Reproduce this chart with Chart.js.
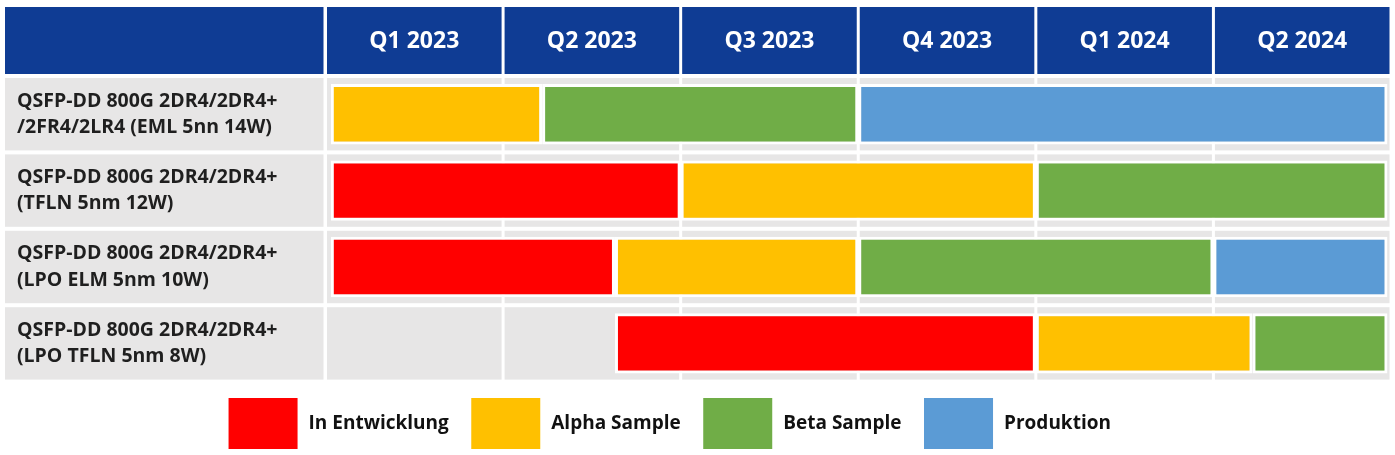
<!DOCTYPE html>
<html>
<head>
<meta charset="utf-8">
<script src="https://cdn.jsdelivr.net/npm/chart.js@4.4.0/dist/chart.umd.min.js"></script>
<style>
  html, body { margin: 0; padding: 0; background: #fff; }
  canvas { display: block; }
</style>
</head>
<body>
<canvas id="roadmap" width="1395" height="455"></canvas>
<script>
// quarters on the time axis (0 = start of Q1 2023, 1 unit = 1 quarter)
const quarters = ['Q1 2023', 'Q2 2023', 'Q3 2023', 'Q4 2023', 'Q1 2024', 'Q2 2024'];

const products = [
  ['QSFP-DD 800G 2DR4/2DR4+', '/2FR4/2LR4 (EML 5nn 14W)'],
  ['QSFP-DD 800G 2DR4/2DR4+', '(TFLN 5nm 12W)'],
  ['QSFP-DD 800G 2DR4/2DR4+', '(LPO ELM 5nm 10W)'],
  ['QSFP-DD 800G 2DR4/2DR4+', '(LPO TFLN 5nm 8W)']
];

// [start, end] in quarters, one entry per product
const entwicklung = [null, [0.03, 2.0], [0.03, 1.63], [1.63, 4.0]];
const alphaSample = [[0.03, 1.22], [2.0, 4.0], [1.63, 3.0], [4.0, 5.22]];
const betaSample = [[1.22, 3.0], [4.0, 5.98], [3.0, 5.0], [5.22, 5.98]];
const produktion = [[3.0, 5.98], null, [5.0, 5.98], null];

const headerBlue = '#0f3c94';
const cellGray = '#e7e6e6';
const fontFamily = '"Open Sans", "Noto Sans", sans-serif';

// ---- table backgrounds (header + grey cells) ----
const tableCells = {
  id: 'tableCells',
  afterLayout(chart) {
    // nudge the legend a bit up/left like in the slide
    chart.legend.top -= 6;
    chart.legend.right -= 70;
  },
  beforeDraw(chart) {
    const { ctx, chartArea, scales: { x, y } } = chart;
    const gap = 1.5;
    const headTop = 7, headBottom = chartArea.top - 2;
    const labelLeft = 5, labelRight = chartArea.left - 2;
    ctx.save();
    ctx.fillStyle = headerBlue;
    ctx.fillRect(labelLeft, headTop, labelRight - labelLeft, headBottom - headTop);
    for (let q = 0; q < quarters.length; q++) {
      const l = x.getPixelForValue(q) + gap, r = x.getPixelForValue(q + 1) - gap;
      ctx.fillRect(l, headTop, r - l, headBottom - headTop);
    }
    const half = (y.getPixelForValue(1) - y.getPixelForValue(0)) / 2;
    ctx.fillStyle = cellGray;
    products.forEach((p, i) => {
      const top = y.getPixelForValue(i) - half + 2;
      const h = 2 * half - 4;
      ctx.fillRect(labelLeft, top, labelRight - labelLeft, h);
      for (let q = 0; q < quarters.length; q++) {
        const l = x.getPixelForValue(q) + gap, r = x.getPixelForValue(q + 1) - gap;
        ctx.fillRect(l, top, r - l, h);
      }
    });
    ctx.restore();
  }
};

function makeSet(label, data, color) {
  return {
    label, data,
    backgroundColor: color,
    borderColor: '#ffffff',
    borderWidth: 3,
    borderSkipped: false,
    grouped: false,
    barPercentage: 0.79,
    categoryPercentage: 1
  };
}

new Chart(document.getElementById('roadmap'), {
  type: 'bar',
  data: {
    labels: products,
    datasets: [
      makeSet('In Entwicklung', entwicklung, '#ff0000'),
      makeSet('Alpha Sample', alphaSample, '#ffc000'),
      makeSet('Beta Sample', betaSample, '#70ad47'),
      makeSet('Produktion', produktion, '#5b9bd5')
    ]
  },
  options: {
    indexAxis: 'y',
    responsive: false,
    devicePixelRatio: 1,
    animation: false,
    layout: { padding: { left: 17, right: 4, top: 7, bottom: -11.6 } },
    scales: {
      x: { type: 'linear', min: 0, max: 6, display: false },
      x2: {
        type: 'category',
        axis: 'x',
        position: 'top',
        labels: quarters,
        offset: true,
        grid: { display: false, drawTicks: false },
        border: { display: false },
        ticks: { color: '#ffffff', padding: 21, font: { family: fontFamily, size: 23, weight: 'bold' } },
        afterFit: (s) => { s.height = 69; }
      },
      y: {
        grid: { display: false, drawTicks: false },
        border: { display: false },
        ticks: {
          crossAlign: 'far',
          color: '#1f1f1f',
          font: { family: fontFamily, size: 19.5, weight: 'bold', lineHeight: 1.36 }
        },
        afterFit: (s) => { s.width = 308.5; }
      }
    },
    plugins: {
      legend: {
        position: 'bottom',
        labels: {
          boxWidth: 72,
          boxHeight: 54,
          padding: 21,
          color: '#111111',
          font: { family: fontFamily, size: 19, weight: 'bold' }
        }
      },
      tooltip: { enabled: false }
    }
  },
  plugins: [tableCells]
});
</script>
</body>
</html>
